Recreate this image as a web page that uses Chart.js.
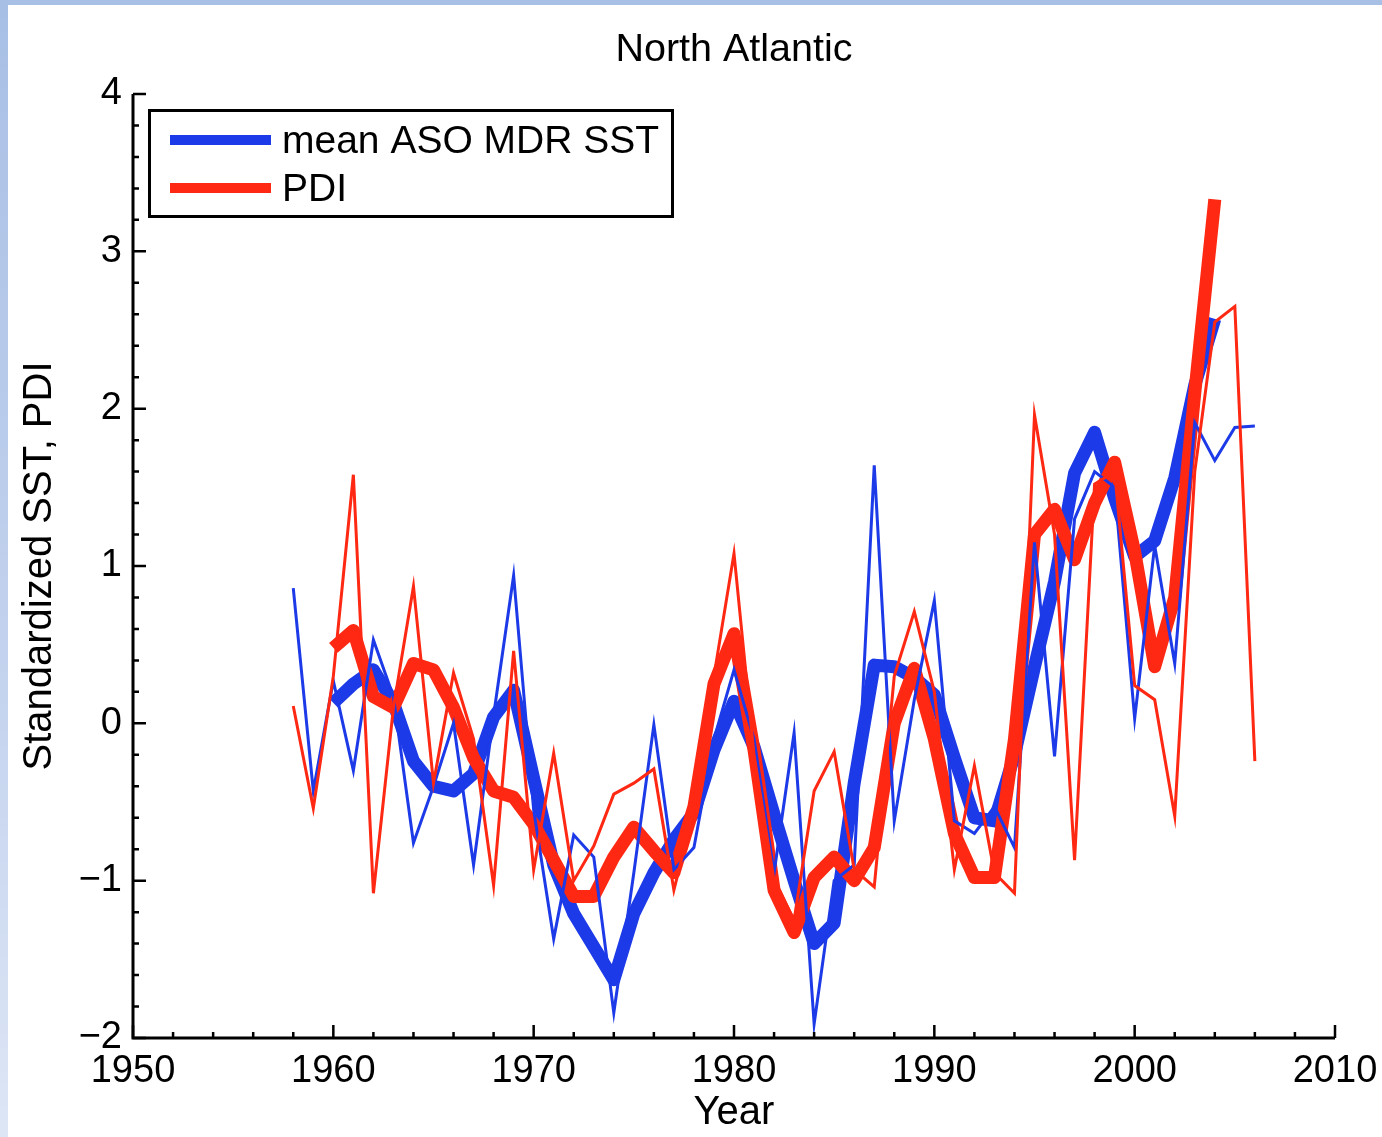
<!DOCTYPE html>
<html>
<head>
<meta charset="utf-8">
<title>North Atlantic</title>
<script src="https://cdn.jsdelivr.net/npm/chart.js@4.4.0/dist/chart.umd.min.js"></script>
<style>
  body { margin: 0; background: #fff; }
  #frame { position: relative; width: 1382px; height: 1137px; background: #fff; overflow: hidden; }
  #frame .top { position: absolute; left: 0; top: 0; width: 1382px; height: 5px; background: #a9c0e6; }
  #frame .side { position: absolute; left: 0; top: 0; width: 8px; height: 1137px;
                 background: linear-gradient(#a8bfe5, #c4d3ee 60%, #dde6f5); }
  #chart { position: absolute; left: 8px; top: 5px; }
</style>
</head>
<body>
<div id="frame">
  <div class="top"></div>
  <div class="side"></div>
  <canvas id="chart" width="1374" height="1132"></canvas>
</div>
<script>
// yearly values (thin lines)
const annualYears = [1958, 1959, 1960, 1961, 1962, 1963, 1964, 1965, 1966, 1967,
  1968, 1969, 1970, 1971, 1972, 1973, 1974, 1975, 1976, 1977,
  1978, 1979, 1980, 1981, 1982, 1983, 1984, 1985, 1986, 1987,
  1988, 1989, 1990, 1991, 1992, 1993, 1994, 1995, 1996, 1997,
  1998, 1999, 2000, 2001, 2002, 2003, 2004, 2005, 2006];

const sstAnnual = [0.86, -0.43, 0.27, -0.30, 0.53, 0.17, -0.76, -0.40, 0.00, -0.90,
  0.05, 0.94, -0.55, -1.37, -0.71, -0.85, -1.84, -0.95, -0.01, -0.93,
  -0.79, -0.10, 0.34, -0.10, -0.95, -0.06, -1.91, -1.00, -0.90, 1.64,
  -0.62, 0.15, 0.78, -0.62, -0.70, -0.53, -0.79, 1.15, -0.21, 1.30,
  1.60, 1.50, 0.03, 1.13, 0.38, 1.91, 1.67, 1.88, 1.89];

const pdiAnnual = [0.11, -0.54, 0.30, 1.58, -1.08, 0.10, 0.87, -0.38, 0.32, -0.10,
  -1.03, 0.46, -0.93, -0.19, -1.00, -0.78, -0.45, -0.38, -0.29, -1.06,
  -0.55, 0.30, 1.08, -0.20, -1.00, -1.25, -0.43, -0.18, -0.93, -1.04,
  0.30, 0.71, 0.20, -0.93, -0.27, -0.95, -1.08, 1.96, 1.20, -0.87,
  1.52, 1.60, 0.24, 0.15, -0.59, 1.60, 2.55, 2.65, -0.24];

// smoothed values (thick lines)
const smoothYears = [1960, 1961, 1962, 1963, 1964, 1965, 1966, 1967, 1968, 1969,
  1970, 1971, 1972, 1973, 1974, 1975, 1976, 1977, 1978, 1979,
  1980, 1981, 1982, 1983, 1984, 1985, 1986, 1987, 1988, 1989,
  1990, 1991, 1992, 1993, 1994, 1995, 1996, 1997, 1998, 1999,
  2000, 2001, 2002, 2003, 2004];

const sstSmooth = [0.13, 0.25, 0.34, 0.13, -0.24, -0.40, -0.43, -0.32, 0.04, 0.21,
  -0.35, -0.90, -1.21, -1.42, -1.63, -1.21, -0.95, -0.74, -0.57, -0.17,
  0.14, -0.15, -0.58, -1.00, -1.40, -1.27, -0.38, 0.37, 0.36, 0.29,
  0.18, -0.22, -0.60, -0.62, -0.20, 0.36, 0.90, 1.59, 1.85, 1.43,
  1.06, 1.16, 1.56, 2.15, 2.57];

const pdiSmooth = [0.48, 0.59, 0.17, 0.10, 0.38, 0.34, 0.10, -0.22, -0.43, -0.47,
  -0.64, -0.87, -1.10, -1.10, -0.85, -0.66, -0.81, -0.95, -0.53, 0.25,
  0.57, -0.17, -1.06, -1.33, -0.98, -0.85, -1.00, -0.79, 0.00, 0.35,
  -0.10, -0.70, -0.98, -0.98, -0.10, 1.20, 1.36, 1.04, 1.40, 1.66,
  1.09, 0.36, 0.80, 2.10, 3.33];

const seriesNames = ["mean ASO MDR SST", "PDI"];
const BLUE = "rgb(28, 58, 232)";
const RED = "rgb(255, 40, 18)";
const FONT = "'Liberation Sans', Arial, Helvetica, sans-serif";

function points(xs, ys) {
    return xs.map((x, i) => ({ x: x, y: ys[i] }));
}

// inward ticks and the two axis lines
const axisFrame = {
    id: "axisFrame",
    afterDraw(chart) {
        const { ctx, chartArea: a, scales: { x, y } } = chart;
        ctx.save();
        ctx.strokeStyle = "#000";
        ctx.lineWidth = 3;
        ctx.beginPath();
        ctx.moveTo(a.left, a.top);
        ctx.lineTo(a.left, a.bottom);
        ctx.lineTo(a.right, a.bottom);
        ctx.stroke();

        ctx.lineWidth = 2.5;
        ctx.beginPath();
        for (let yr = x.min; yr <= x.max; yr += 2) {
            const px = x.getPixelForValue(yr);
            const len = yr % 10 === 0 ? 13 : 6;
            ctx.moveTo(px, a.bottom);
            ctx.lineTo(px, a.bottom - len);
        }
        for (let i = y.min * 5; i <= y.max * 5; i++) {
            const py = y.getPixelForValue(i / 5);
            const len = i % 5 === 0 ? 13 : 6;
            ctx.moveTo(a.left, py);
            ctx.lineTo(a.left + len, py);
        }
        ctx.stroke();
        ctx.restore();
    }
};

// boxed legend in the upper left corner
const boxLegend = {
    id: "boxLegend",
    afterDraw(chart) {
        const { ctx, chartArea: a } = chart;
        const left = a.left + 16.5, top = a.top + 16.5;
        ctx.save();
        ctx.fillStyle = "#fff";
        ctx.fillRect(left, top, 523, 106);
        ctx.strokeStyle = "#000";
        ctx.lineWidth = 3;
        ctx.strokeRect(left, top, 523, 106);

        const colors = [BLUE, RED];
        ctx.font = "39px " + FONT;
        ctx.textBaseline = "middle";
        seriesNames.forEach((name, i) => {
            const cy = top + 29.5 + i * 48;
            ctx.strokeStyle = colors[i];
            ctx.lineWidth = 10;
            ctx.beginPath();
            ctx.moveTo(left + 20.5, cy);
            ctx.lineTo(left + 121.5, cy);
            ctx.stroke();
            ctx.fillStyle = "#000";
            ctx.fillText(name, left + 132.5, cy + 2);
        });
        ctx.restore();
    }
};

const thin = { borderWidth: 3, pointRadius: 0, tension: 0, fill: false, borderJoinStyle: "miter" };
const thick = { borderWidth: 13, pointRadius: 0, tension: 0, fill: false, borderJoinStyle: "round" };

new Chart(document.getElementById("chart"), {
    type: "line",
    data: {
        datasets: [
            { ...thin, label: "SST yearly", data: points(annualYears, sstAnnual), borderColor: BLUE, order: 1 },
            { ...thin, label: "PDI yearly", data: points(annualYears, pdiAnnual), borderColor: RED, order: 0 },
            { ...thick, label: seriesNames[0], data: points(smoothYears, sstSmooth), borderColor: BLUE, order: 3 },
            { ...thick, label: seriesNames[1], data: points(smoothYears, pdiSmooth), borderColor: RED, order: 2 }
        ]
    },
    options: {
        responsive: false,
        animation: false,
        devicePixelRatio: 1,
        layout: { padding: { left: 0, right: 47, top: 0, bottom: 0 } },
        plugins: {
            legend: { display: false },
            tooltip: { enabled: false },
            title: {
                display: true,
                fullSize: false,
                text: "North Atlantic",
                color: "#000",
                font: { family: FONT, size: 39.5, weight: "normal" },
                padding: { top: 21.3, bottom: 20.3 }
            }
        },
        scales: {
            x: {
                type: "linear",
                min: 1950,
                max: 2010,
                border: { display: false },
                grid: { display: false, drawTicks: false },
                ticks: {
                    stepSize: 10,
                    autoSkip: false,
                    maxRotation: 0,
                    padding: 11,
                    color: "#000",
                    font: { family: FONT, size: 38 },
                    callback: v => String(v)
                },
                title: {
                    display: true,
                    text: "Year",
                    color: "#000",
                    font: { family: FONT, size: 40 },
                    padding: { top: 0, bottom: 0 }
                },
                afterFit(scale) {
                    scale.height = 99;
                    scale.paddingLeft = 0;
                    scale.paddingRight = 0;
                }
            },
            y: {
                min: -2,
                max: 4,
                border: { display: false },
                grid: { display: false, drawTicks: false },
                ticks: {
                    stepSize: 1,
                    autoSkip: false,
                    padding: 11,
                    color: "#000",
                    font: { family: FONT, size: 38 },
                    callback: v => String(v).replace("-", "\u2212")
                },
                title: {
                    display: true,
                    text: "Standardized SST, PDI",
                    color: "#000",
                    font: { family: FONT, size: 40 },
                    padding: { top: 8, bottom: 0 }
                },
                afterFit(scale) { scale.width = 125; }
            }
        }
    },
    plugins: [axisFrame, boxLegend]
});
</script>
</body>
</html>
